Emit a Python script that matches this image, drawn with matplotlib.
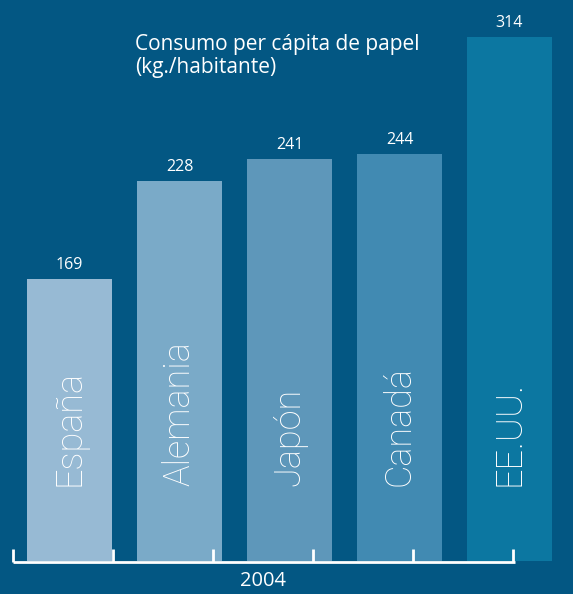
import matplotlib
matplotlib.use("Agg")
import matplotlib.pyplot as plt

paises = ["España", "Alemania", "Japón", "Canadá", "EE.UU."]
consumo = [169, 228, 241, 244, 314]
colores = ["#97bad4", "#7aaac8", "#5e97ba", "#418ab2", "#0c77a1"]
titulo = "Consumo per cápita de papel\n(kg./habitante)"
anio = "2004"

fondo = "#035783"
plt.rcParams["font.family"] = ["Open Sans", "DejaVu Sans"]

fig = plt.figure(figsize=(5.73, 5.94), dpi=100, facecolor=fondo)
ax = fig.add_axes([0, 0, 1, 1])
ax.set_facecolor(fondo)

# pixel geometry of the reference: bars 85px wide, 110px apart
px = 1 / 110.0
upx = 314 / 524.0
ax.set_xlim(-69.5 * px, (573 - 69.5) * px)
ax.set_ylim(-33 * upx, (594 - 33) * upx)
ax.axis("off")

x = list(range(len(paises)))
ax.bar(x, consumo, width=85 * px, color=colores, zorder=2)

for i, (p, v) in enumerate(zip(paises, consumo)):
    ax.text(i, v + 13.5 * upx, str(v), ha="center", va="center",
            color="white", fontsize=11.5, zorder=3)
    ax.text(i + 10 * px, 75 * upx, p, rotation=90, rotation_mode="anchor",
            ha="left", va="baseline", color="white", fontsize=26,
            family=["Roboto", "DejaVu Sans"], fontweight="light", zorder=3)

# bracket under the bars
y0 = -1 * upx
x_ini = (13 - 69.5) * px
x_fin = (515 - 69.5) * px
ax.plot([x_ini, x_fin], [y0, y0], color="white", lw=2, solid_capstyle="butt",
        zorder=4)
for k in range(6):
    xt = x_ini + k * 100 * px
    ax.plot([xt, xt], [y0, y0 + 13 * upx], color="white", lw=2,
            solid_capstyle="butt", zorder=4)

ax.text((263 - 69.5) * px, -19.5 * upx, anio, ha="center", va="center",
        color="white", fontsize=14.5)

ax.text((135 - 69.5) * px, (561 - 73) * upx, titulo, ha="left",
        va="baseline", color="white", fontsize=15, linespacing=1.12)

fig.savefig("out.png", dpi=100, facecolor=fondo)
